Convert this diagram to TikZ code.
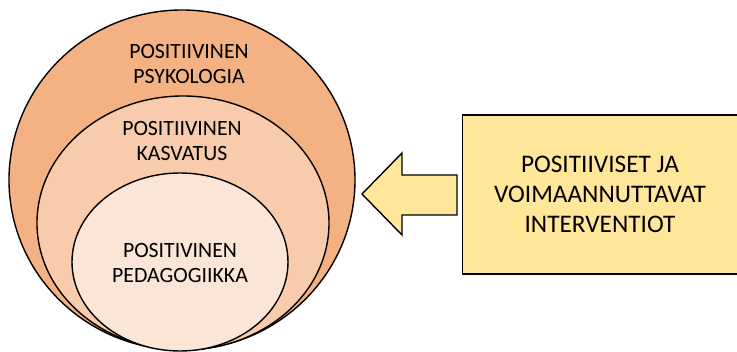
\documentclass[tikz,border=0pt]{standalone}
\usepackage{fontspec}
\setmainfont{Carlito}
\definecolor{psykfill}{HTML}{F4B183}
\definecolor{kasvfill}{HTML}{F8CBAD}
\definecolor{pedafill}{HTML}{FBE5D6}
\definecolor{intfill}{HTML}{FFE699}
\tikzset{
	ring/.style={draw=black, line width=1.4pt},
	ringtext/.style={align=center, font=\fontsize{21.8}{25.5}\selectfont},
	intbox/.style={draw=black, line width=1.4pt, fill=intfill, align=center,
		minimum width=275pt, minimum height=159pt, inner sep=0pt,
		font=\fontsize{25.3}{30}\selectfont}
}
\begin{document}
\begin{tikzpicture}[x=1pt,y=-1pt]
		\useasboundingbox (0,0) rectangle (737,352);
		\filldraw [ring, fill=psykfill] (182,180) ellipse (173 and 170);
		\filldraw [ring, fill=kasvfill] (183,223) ellipse (146 and 127);
		\filldraw [ring, fill=pedafill] (180,262) ellipse (108 and 89);
		\node (psyk) [ringtext] at (189,64) {POSITIIVINEN\\PSYKOLOGIA};
		\node (kasv) [ringtext] at (182,141) {POSITIIVINEN\\KASVATUS};
		\node (peda) [ringtext] at (180,263) {POSITIVINEN\\PEDAGOGIIKKA};
		\node (int) [intbox] at (600,194.5) {POSITIIVISET JA\\VOIMAANNUTTAVAT\\INTERVENTIOT};
		% arrow from the box towards the circles
		\filldraw [ring, fill=intfill, line join=miter]
			(362,194) -- (402,153) -- (402,175) -- (457,175)
			-- (457,215) -- (402,215) -- (402,235) -- cycle;
	\end{tikzpicture}
\end{document}
